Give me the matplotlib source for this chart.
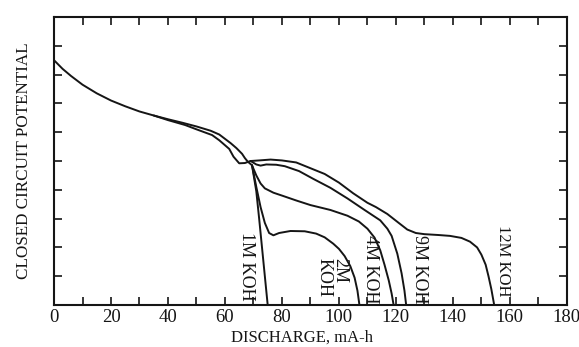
import matplotlib
matplotlib.use("Agg")
import matplotlib.pyplot as plt
from matplotlib.ticker import MultipleLocator

# discharge (mA-h) / potential (arbitrary units, 0-10 grid)
x_upper = [0, 3, 6, 10, 15, 20, 25, 30, 35, 40, 45, 50, 55, 58, 62, 64, 66, 67, 68, 69.5]
y_upper = [8.5, 8.2, 7.95, 7.65, 7.35, 7.1, 6.9, 6.72, 6.58, 6.45, 6.33, 6.2, 6.05, 5.92, 5.62, 5.45, 5.25, 5.1, 4.98, 4.85]

x_lower = [35, 40, 46, 50, 55.5, 58, 61.5, 63, 65, 67, 69]
y_lower = [6.58, 6.42, 6.25, 6.1, 5.9, 5.72, 5.42, 5.15, 4.92, 4.93, 5.0]

x_1m = [69.5, 71, 72, 73, 74, 75]
y_1m = [4.85, 3.95, 3.0, 2.0, 1.0, 0.0]

x_2m = [69.5, 71, 72.5, 74, 75.5, 77, 79, 83, 88, 92, 95, 98, 100, 102, 104, 105.5, 106.5, 107.2]
y_2m = [4.85, 4.1, 3.4, 2.85, 2.5, 2.42, 2.5, 2.57, 2.56, 2.48, 2.35, 2.13, 1.95, 1.7, 1.35, 0.95, 0.5, 0.0]

x_4m = [69.5, 71, 72.5, 74, 77, 80, 85, 90, 97, 103, 107, 110, 112.5, 114.5, 116, 117.5, 118.5, 119.2]
y_4m = [4.85, 4.5, 4.22, 4.05, 3.9, 3.8, 3.63, 3.47, 3.3, 3.1, 2.9, 2.65, 2.34, 1.9, 1.4, 0.85, 0.4, 0.0]

x_9m = [69, 71, 72.5, 74.5, 78, 81, 86, 91, 97, 103, 109, 114.5, 117, 118.5, 120.5, 122, 123, 123.6]
y_9m = [5.0, 4.88, 4.84, 4.88, 4.87, 4.82, 4.65, 4.38, 4.07, 3.7, 3.3, 2.94, 2.65, 2.4, 1.78, 1.1, 0.5, 0.0]

x_12m = [69, 72, 76, 80, 85, 90, 95, 100, 105, 110, 113, 117, 121, 124, 127, 130, 135, 139, 143, 146,
         148.5, 150, 151.5, 152.5, 153.5, 154.5]
y_12m = [5.0, 5.02, 5.05, 5.02, 4.95, 4.75, 4.55, 4.25, 3.88, 3.55, 3.4, 3.16, 2.85, 2.62, 2.5, 2.46,
         2.43, 2.4, 2.33, 2.2, 2.0, 1.75, 1.4, 1.0, 0.55, 0.0]

labels = ["1M KOH", "2M\nKOH", "4M KOH", "9M KOH", "12M KOH"]
label_x = [67.7, 97.5, 111.2, 128.4, 157.5]
label_y = [1.35, 0.95, 1.25, 1.25, 1.55]
label_size = [13, 13, 13, 13, 12]

serif = ["Liberation Serif", "DejaVu Serif"]
ink = "#151515"

fig = plt.figure(figsize=(5.79, 3.47), dpi=100)
ax = fig.add_axes([0.0933, 0.121, 0.8857, 0.83])

line_kw = dict(color=ink, lw=1.4, solid_joinstyle="round", solid_capstyle="round")
ax.plot(x_upper, y_upper, **line_kw)
ax.plot(x_lower, y_lower, **line_kw)
for xs, ys in [(x_1m, y_1m), (x_2m, y_2m), (x_4m, y_4m), (x_9m, y_9m), (x_12m, y_12m)]:
    ax.plot(xs, ys, **line_kw)

for txt, lx, ly, fs in zip(labels, label_x, label_y, label_size):
    ax.text(lx, ly, txt, rotation=-90, ha="center", va="center", multialignment="left",
            fontsize=fs, family=serif, color=ink, linespacing=0.95)

ax.set_xlim(0, 180)
ax.set_ylim(0, 10)
ax.xaxis.set_major_locator(MultipleLocator(20))
ax.xaxis.set_minor_locator(MultipleLocator(10))
ax.yaxis.set_major_locator(MultipleLocator(1))
ax.tick_params(which="both", direction="in", length=5.5, width=1.2, color=ink,
               top=True, right=True, labelleft=False, pad=3)
ax.tick_params(axis="x", labelsize=13.5, labelcolor=ink)
for lab in ax.get_xticklabels():
    lab.set_family(serif)
for sp in ax.spines.values():
    sp.set_linewidth(1.5)
    sp.set_color(ink)

ax.set_xlabel("DISCHARGE, mA-h", family=serif, fontsize=12, color=ink)
ax.xaxis.set_label_coords(0.483, -0.085)
ax.set_ylabel("CLOSED CIRCUIT POTENTIAL", family=serif, fontsize=12.3, color=ink)
ax.yaxis.set_label_coords(-0.042, 0.5)

fig.savefig("out.png", dpi=100)
